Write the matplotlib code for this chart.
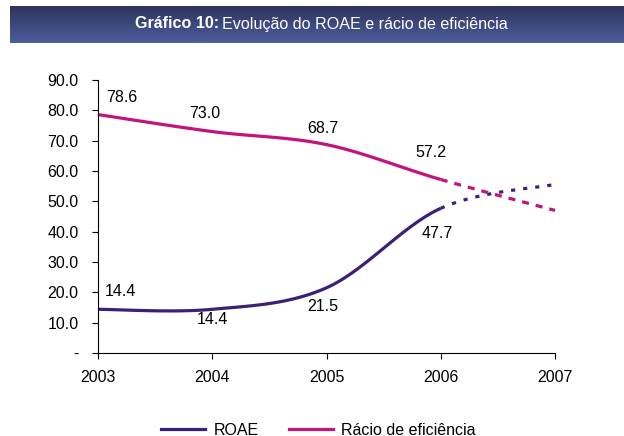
import numpy as np
import matplotlib.pyplot as plt
from matplotlib.lines import Line2D

plt.rcParams['font.family'] = ['Liberation Sans', 'DejaVu Sans']

years = [2003, 2004, 2005, 2006, 2007]
roae = [14.4, 14.4, 21.5, 47.7, 55.6]
eficiencia = [78.6, 73.0, 68.7, 57.2, 47.0]
labels_roae = ['14.4', '14.4', '21.5', '47.7']
labels_efi = ['78.6', '73.0', '68.7', '57.2']
yticks = [0, 10, 20, 30, 40, 50, 60, 70, 80, 90]
ytick_labels = ['-', '10.0', '20.0', '30.0', '40.0', '50.0', '60.0', '70.0', '80.0', '90.0']

c_roae = '#3b1f78'
c_efi = '#c2147f'
fs = 11.5


def smooth(xs, ys, n=40):
    # catmull-rom, like Excel's smoothed line
    p = np.column_stack([xs, ys]).astype(float)
    p = np.vstack([p[0], p, p[-1]])
    segs = []
    for i in range(1, len(p) - 2):
        p0, p1, p2, p3 = p[i - 1], p[i], p[i + 1], p[i + 2]
        t = np.linspace(0, 1, n)[:, None]
        pts = 0.5 * ((2 * p1) + (-p0 + p2) * t + (2 * p0 - 5 * p1 + 4 * p2 - p3) * t ** 2
                     + (-p0 + 3 * p1 - 3 * p2 + p3) * t ** 3)
        segs.append(pts)
    return segs


fig = plt.figure(figsize=(6.24, 4.36), dpi=100)

# title banner with gradient
bax = fig.add_axes([10 / 624, 1 - 43 / 436, 614 / 624, 37 / 436])
grad = np.linspace(0, 1, 50)[:, None]
top = np.array([0.18, 0.20, 0.36])
bot = np.array([0.30, 0.37, 0.62])
img = top + (bot - top) * grad[:, :, None]
bax.imshow(img, aspect='auto', extent=[0, 1, 0, 1])
bax.axis('off')
fig.text(219 / 624, 1 - 24 / 436, 'Gráfico 10:', color='white', ha='right', va='center',
         fontsize=11.6, fontweight='bold')
fig.text(222 / 624, 1 - 24 / 436, 'Evolução do ROAE e rácio de eficiência', color='white',
         ha='left', va='center', fontsize=11.6)

ax = fig.add_axes([98 / 624, 1 - 353 / 436, 457 / 624, 273 / 436])

for vals, col, dash in [(roae, c_roae, (1.3, 2.5)), (eficiencia, c_efi, (2.2, 2.2))]:
    segs = smooth(years, vals)
    solid = np.vstack(segs[:3])
    ax.plot(solid[:, 0], solid[:, 1], color=col, lw=2.3, solid_capstyle='butt', clip_on=False)
    ax.plot(segs[3][:, 0], segs[3][:, 1], color=col, lw=2.3, linestyle=(0, dash), clip_on=False)

# label offsets in pixels, converted to points
efi_off = [(24, 17), (-8, 18), (-4, 16), (-10, 27)]
for x, v, t, o in zip(years, eficiencia, labels_efi, efi_off):
    ax.annotate(t, (x, v), xytext=(o[0] * 0.72, o[1] * 0.72), textcoords='offset points',
                ha='center', va='center', fontsize=fs)
roae_off = [(22, 18), (0, -10), (-4, -19), (-3, -25)]
for x, v, t, o in zip(years, roae, labels_roae, roae_off):
    ax.annotate(t, (x, v), xytext=(o[0] * 0.72, o[1] * 0.72), textcoords='offset points',
                ha='center', va='center', fontsize=fs)

ax.set_xlim(2003, 2007)
ax.set_ylim(0, 90)
ax.set_xticks(years)
ax.set_xticklabels([str(y) for y in years])
ax.set_yticks(yticks)
ax.set_yticklabels(ytick_labels)
ax.spines['top'].set_visible(False)
ax.spines['right'].set_visible(False)
ax.tick_params(axis='both', labelsize=fs, length=4, direction='out')
ax.tick_params(axis='x', pad=8)
ax.tick_params(axis='y', pad=10)

handles = [Line2D([], [], color=c_roae, lw=2.3), Line2D([], [], color=c_efi, lw=2.3)]
fig.legend(handles, ['ROAE', 'Rácio de eficiência'], loc='center', bbox_to_anchor=(0.51, 1 - 430 / 436),
           ncol=2, frameon=False, fontsize=fs, handlelength=2.8, columnspacing=1.9, handletextpad=0.5)

fig.savefig('out.png', dpi=100)
